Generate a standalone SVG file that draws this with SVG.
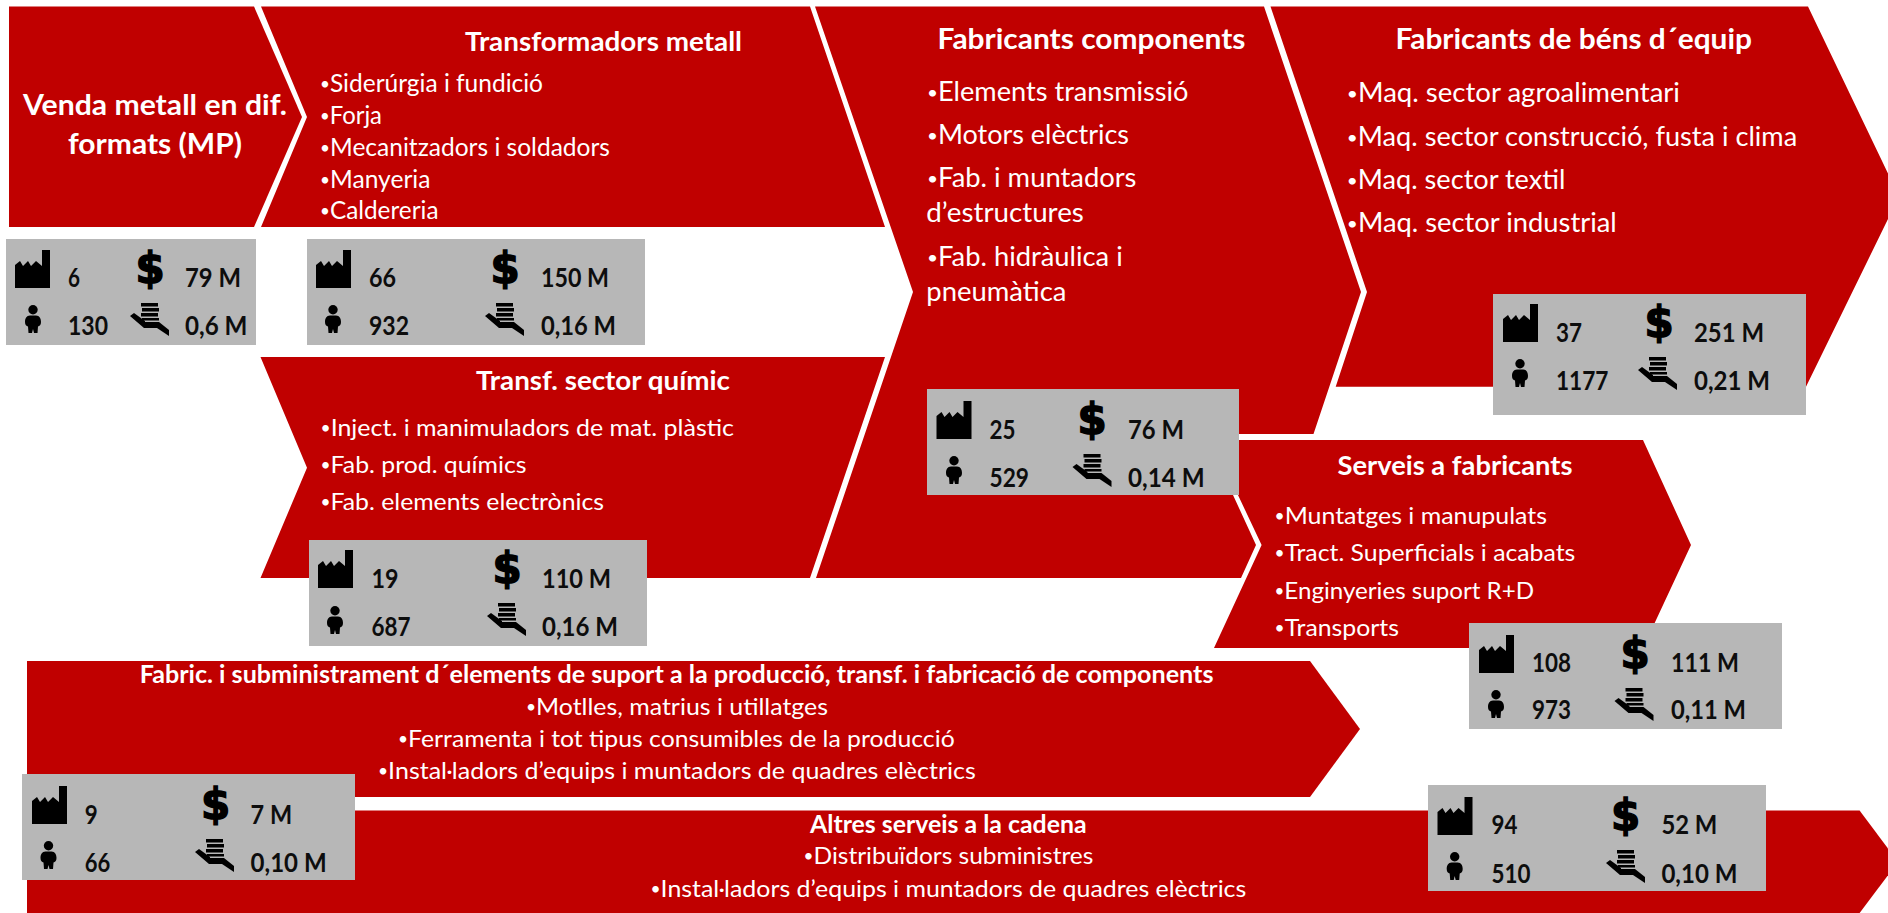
<svg xmlns="http://www.w3.org/2000/svg" width="1888" height="913" viewBox="0 0 1888 913">
<style>
text{font-family:Lato,"Open Sans",sans-serif}
.r{fill:#C00000}
.b{fill:#B7B7B7}
.ti{fill:#fff;font-weight:700;font-size:26px}
.tl{fill:#fff;font-weight:700;font-size:29px}
.ts{fill:#fff;font-weight:700;font-size:24px}
.l{fill:#fff;font-size:25px}
.m{fill:#fff;font-size:26px}
.s{fill:#fff;font-size:24px}
.u{font-size:.7em;baseline-shift:2px}
.n{fill:#0d0d0d;font-weight:700;font-size:27px}
.d{fill:#000;stroke:#000;stroke-width:1.500;font-family:"DejaVu Sans",sans-serif;font-weight:700;font-size:42px;text-anchor:middle}
</style>
<defs>
<path id="f" d="M0 38V15L5 11L8 16L13 11L16 16L21 11L27 16V0H35V38Z"/>
<g id="p"><circle cx="0" cy="4.700" r="4.700"/><path d="M-3 10.500H3C6.500 10.500 8 13.500 8 17C8 20 6.500 21 5 21.500L4.500 28H1L0 24L-1 28H-4.500L-5 21.500C-6.500 21-8 20-8 17C-8 13.500-6.500 10.500-3 10.500Z"/></g>
<g id="h"><path d="M11 0H28V3.500H11ZM12 5H29V8.500H12ZM11 10H28V13.500H11ZM12 15H29V17.500H12Z"/><path d="M0 13L4 10L15 18V19H29L39 27V33L27 25H14ZM18 21H30L34 24V25H18Z"/></g>
</defs>

<g id="venda-metall">
<polygon class="r" points="9,6.500 254,6.500 302,117 254,227 9,227"/>
<text class="tl" x="23" y="115" textLength="264" lengthAdjust="spacingAndGlyphs">Venda metall en dif.</text>
<text class="tl" x="68" y="154" textLength="174" lengthAdjust="spacingAndGlyphs">formats (MP)</text>
</g>
<g id="transformadors-metall">
<polygon class="r" points="261,6.500 810,6.500 885,227 261,227 307,117"/>
<text class="ti" x="465" y="50.700" textLength="277" lengthAdjust="spacingAndGlyphs">Transformadors metall</text>
<text class="l" x="320" y="92" textLength="223" lengthAdjust="spacingAndGlyphs"><tspan class="u">•</tspan>Siderúrgia i fundició</text>
<text class="l" x="320" y="124" textLength="62" lengthAdjust="spacingAndGlyphs"><tspan class="u">•</tspan>Forja</text>
<text class="l" x="320" y="156" textLength="290" lengthAdjust="spacingAndGlyphs"><tspan class="u">•</tspan>Mecanitzadors i soldadors</text>
<text class="l" x="320" y="188" textLength="110.500" lengthAdjust="spacingAndGlyphs"><tspan class="u">•</tspan>Manyeria</text>
<text class="l" x="320" y="219" textLength="118.500" lengthAdjust="spacingAndGlyphs"><tspan class="u">•</tspan>Caldereria</text>
</g>
<g id="transf-sector-quimic">
<polygon class="r" points="260.500,357 885,357 810,578 260.500,578 307,467.700"/>
<text class="ti" x="476" y="390" textLength="254" lengthAdjust="spacingAndGlyphs">Transf. sector químic</text>
<text class="s" x="320.500" y="436" textLength="413.500" lengthAdjust="spacingAndGlyphs"><tspan class="u">•</tspan>Inject. i manimuladors de mat. plàstic</text>
<text class="s" x="320.500" y="473" textLength="206" lengthAdjust="spacingAndGlyphs"><tspan class="u">•</tspan>Fab. prod. químics</text>
<text class="s" x="320.500" y="510" textLength="283.500" lengthAdjust="spacingAndGlyphs"><tspan class="u">•</tspan>Fab. elements electrònics</text>
</g>
<g id="fabricants-components">
<polygon class="r" points="815,6.500 1264,6.500 1361,292 1313.500,434 1205,434 1256,545 1241,578 816,578 913,292"/>
<text class="tl" x="937.500" y="49.300" textLength="308" lengthAdjust="spacingAndGlyphs">Fabricants components</text>
<text class="m" x="927" y="100.700" textLength="261.500" lengthAdjust="spacingAndGlyphs"><tspan class="u">•</tspan>Elements transmissió</text>
<text class="m" x="927" y="144" textLength="202" lengthAdjust="spacingAndGlyphs"><tspan class="u">•</tspan>Motors elèctrics</text>
<text class="m" x="927" y="187" textLength="209.500" lengthAdjust="spacingAndGlyphs"><tspan class="u">•</tspan>Fab. i muntadors</text>
<text class="m" x="926.300" y="222" textLength="157.500" lengthAdjust="spacingAndGlyphs">d’estructures</text>
<text class="m" x="927" y="266" textLength="195.700" lengthAdjust="spacingAndGlyphs"><tspan class="u">•</tspan>Fab. hidràulica i</text>
<text class="m" x="926.300" y="300.700" textLength="140.200" lengthAdjust="spacingAndGlyphs">pneumàtica</text>
</g>
<g id="fabricants-bens-equip">
<polygon class="r" points="1270.500,6.500 1808,6.500 1899,196.600 1806,386.700 1335.700,386.700 1367,292"/>
<text class="tl" x="1395.400" y="49.300" textLength="356.600" lengthAdjust="spacingAndGlyphs">Fabricants de béns d´equip</text>
<text class="m" x="1346.800" y="101.700" textLength="333.200" lengthAdjust="spacingAndGlyphs"><tspan class="u">•</tspan>Maq. sector agroalimentari</text>
<text class="m" x="1346.800" y="145.700" textLength="450.400" lengthAdjust="spacingAndGlyphs"><tspan class="u">•</tspan>Maq. sector construcció, fusta i clima</text>
<text class="m" x="1346.800" y="189" textLength="218.600" lengthAdjust="spacingAndGlyphs"><tspan class="u">•</tspan>Maq. sector textil</text>
<text class="m" x="1346.800" y="232" textLength="270" lengthAdjust="spacingAndGlyphs"><tspan class="u">•</tspan>Maq. sector industrial</text>
</g>
<g id="serveis-fabricants">
<polygon class="r" points="1212,440 1643,440 1691,545 1643,648 1214,648 1261.600,545"/>
<text class="ti" x="1337.500" y="475.300" textLength="235" lengthAdjust="spacingAndGlyphs">Serveis a fabricants</text>
<text class="s" x="1274.600" y="524" textLength="272.400" lengthAdjust="spacingAndGlyphs"><tspan class="u">•</tspan>Muntatges i manupulats</text>
<text class="s" x="1274.600" y="560.700" textLength="300.700" lengthAdjust="spacingAndGlyphs"><tspan class="u">•</tspan>Tract. Superficials i acabats</text>
<text class="s" x="1274.600" y="598.700" textLength="259.400" lengthAdjust="spacingAndGlyphs"><tspan class="u">•</tspan>Enginyeries suport R+D</text>
<text class="s" x="1274.600" y="636" textLength="124.400" lengthAdjust="spacingAndGlyphs"><tspan class="u">•</tspan>Transports</text>
</g>
<g id="elements-suport">
<polygon class="r" points="27,661 1310,661 1360,729 1310,797 27,797"/>
<text class="ts" x="139.700" y="682.700" textLength="1073.800" lengthAdjust="spacingAndGlyphs">Fabric. i subministrament d´elements de suport a la producció, transf. i fabricació de components</text>
<text class="s" x="526" y="715" textLength="302" lengthAdjust="spacingAndGlyphs"><tspan class="u">•</tspan>Motlles, matrius i utillatges</text>
<text class="s" x="398" y="746.700" textLength="556.700" lengthAdjust="spacingAndGlyphs"><tspan class="u">•</tspan>Ferramenta i tot tipus consumibles de la producció</text>
<text class="s" x="378" y="778.700" textLength="597.800" lengthAdjust="spacingAndGlyphs"><tspan class="u">•</tspan>Instal·ladors d’equips i muntadors de quadres elèctrics</text>
</g>
<g id="altres-serveis">
<polygon class="r" points="27,810.500 1859.600,810.500 1898,862 1859.600,913 27,913"/>
<text class="ts" x="810" y="832.700" textLength="276.600" lengthAdjust="spacingAndGlyphs">Altres serveis a la cadena</text>
<text class="s" x="803.600" y="864.300" textLength="289.800" lengthAdjust="spacingAndGlyphs"><tspan class="u">•</tspan>Distribuïdors subministres</text>
<text class="s" x="650.500" y="896.700" textLength="595.800" lengthAdjust="spacingAndGlyphs"><tspan class="u">•</tspan>Instal·ladors d’equips i muntadors de quadres elèctrics</text>
</g>

<g id="stats-venda">
<rect class="b" x="6" y="239" width="250" height="106"/>
<use href="#f" x="15" y="250"/><use href="#p" x="33" y="305"/><text class="d" x="150" y="283">$</text><use href="#h" x="130" y="303"/>
<text class="n" x="68" y="287" textLength="12" lengthAdjust="spacingAndGlyphs">6</text><text class="n" x="68" y="335" textLength="40" lengthAdjust="spacingAndGlyphs">130</text>
<text class="n" x="185" y="287" textLength="56" lengthAdjust="spacingAndGlyphs">79 M</text><text class="n" x="185" y="335" textLength="62.500" lengthAdjust="spacingAndGlyphs">0,6 M</text>
</g>
<g id="stats-transformadors">
<rect class="b" x="307" y="239" width="338" height="106"/>
<use href="#f" x="316" y="250"/><use href="#p" x="333" y="305"/><text class="d" x="505" y="283">$</text><use href="#h" x="485" y="303"/>
<text class="n" x="369" y="287" textLength="27" lengthAdjust="spacingAndGlyphs">66</text><text class="n" x="369" y="335" textLength="40" lengthAdjust="spacingAndGlyphs">932</text>
<text class="n" x="541" y="287" textLength="68" lengthAdjust="spacingAndGlyphs">150 M</text><text class="n" x="541" y="335" textLength="75" lengthAdjust="spacingAndGlyphs">0,16 M</text>
</g>
<g id="stats-quimic">
<rect class="b" x="309" y="540" width="338" height="106"/>
<use href="#f" x="318" y="550"/><use href="#p" x="335" y="606"/><text class="d" x="507" y="583">$</text><use href="#h" x="487" y="603"/>
<text class="n" x="371.400" y="587.700" textLength="27" lengthAdjust="spacingAndGlyphs">19</text><text class="n" x="371.400" y="635.700" textLength="39" lengthAdjust="spacingAndGlyphs">687</text>
<text class="n" x="542" y="587.700" textLength="69" lengthAdjust="spacingAndGlyphs">110 M</text><text class="n" x="542" y="635.700" textLength="76" lengthAdjust="spacingAndGlyphs">0,16 M</text>
</g>
<g id="stats-components">
<rect class="b" x="927" y="389" width="312" height="106"/>
<use href="#f" x="936.500" y="401"/><use href="#p" x="954" y="456"/><text class="d" x="1092" y="434">$</text><use href="#h" x="1072.500" y="454"/>
<text class="n" x="989.500" y="439" textLength="26" lengthAdjust="spacingAndGlyphs">25</text><text class="n" x="989.500" y="486.700" textLength="39.500" lengthAdjust="spacingAndGlyphs">529</text>
<text class="n" x="1128" y="439" textLength="56" lengthAdjust="spacingAndGlyphs">76 M</text><text class="n" x="1128" y="486.700" textLength="76.600" lengthAdjust="spacingAndGlyphs">0,14 M</text>
</g>
<g id="stats-bens">
<rect class="b" x="1493" y="294" width="313" height="121"/>
<use href="#f" x="1503" y="304"/><use href="#p" x="1520" y="359"/><text class="d" x="1659" y="337">$</text><use href="#h" x="1638" y="357"/>
<text class="n" x="1556" y="341.700" textLength="26" lengthAdjust="spacingAndGlyphs">37</text><text class="n" x="1556" y="390" textLength="52.500" lengthAdjust="spacingAndGlyphs">1177</text>
<text class="n" x="1694" y="341.700" textLength="70" lengthAdjust="spacingAndGlyphs">251 M</text><text class="n" x="1694" y="390" textLength="76" lengthAdjust="spacingAndGlyphs">0,21 M</text>
</g>
<g id="stats-serveis">
<rect class="b" x="1469" y="623" width="313" height="106"/>
<use href="#f" x="1479" y="635"/><use href="#p" x="1496" y="690"/><text class="d" x="1635" y="668">$</text><use href="#h" x="1614.500" y="688"/>
<text class="n" x="1532" y="671.700" textLength="39" lengthAdjust="spacingAndGlyphs">108</text><text class="n" x="1532" y="719.300" textLength="39" lengthAdjust="spacingAndGlyphs">973</text>
<text class="n" x="1671" y="671.700" textLength="68" lengthAdjust="spacingAndGlyphs">111 M</text><text class="n" x="1671" y="719.300" textLength="75" lengthAdjust="spacingAndGlyphs">0,11 M</text>
</g>
<g id="stats-suport">
<rect class="b" x="22" y="774" width="333" height="106"/>
<use href="#f" x="32" y="786"/><use href="#p" x="48.500" y="841"/><text class="d" x="215.600" y="819">$</text><use href="#h" x="195" y="839"/>
<text class="n" x="84.800" y="824" textLength="13" lengthAdjust="spacingAndGlyphs">9</text><text class="n" x="84.800" y="871.700" textLength="25.500" lengthAdjust="spacingAndGlyphs">66</text>
<text class="n" x="250.600" y="824" textLength="41.500" lengthAdjust="spacingAndGlyphs">7 M</text><text class="n" x="250.600" y="871.700" textLength="76" lengthAdjust="spacingAndGlyphs">0,10 M</text>
</g>
<g id="stats-altres">
<rect class="b" x="1428" y="785" width="338" height="106"/>
<use href="#f" x="1437.500" y="797"/><use href="#p" x="1454.700" y="852"/><text class="d" x="1625.700" y="830">$</text><use href="#h" x="1606" y="850"/>
<text class="n" x="1491.500" y="834.300" textLength="26" lengthAdjust="spacingAndGlyphs">94</text><text class="n" x="1491.500" y="882.700" textLength="39" lengthAdjust="spacingAndGlyphs">510</text>
<text class="n" x="1661.400" y="834.300" textLength="56" lengthAdjust="spacingAndGlyphs">52 M</text><text class="n" x="1661.400" y="882.700" textLength="76" lengthAdjust="spacingAndGlyphs">0,10 M</text>
</g>
</svg>
